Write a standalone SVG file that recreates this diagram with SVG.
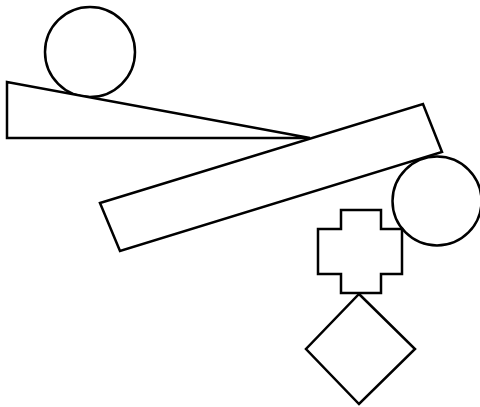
<svg xmlns="http://www.w3.org/2000/svg" width="480" height="407" viewBox="0 0 480 407">
<style>
.s{fill:#fff;stroke:#000;stroke-width:2.5;stroke-linejoin:miter}
</style>
<rect width="480" height="407" fill="#fff"/>
<g id="circle-top"><circle class="s" cx="90" cy="52" r="45"/></g>
<g id="triangle"><polygon class="s" points="7,82 7,138 310,138"/></g>
<g id="circle-right"><circle class="s" cx="437" cy="201" r="44.5"/></g>
<g id="beam"><polygon class="s" points="100,203 423,104 442,152 120,251"/></g>
<g id="cross"><polygon class="s" points="341,210 381,210 381,229 402,229 402,274 381,274 381,293 341,293 341,274 318,274 318,229 341,229"/></g>
<g id="diamond"><polygon class="s" points="359,294 415,349 359,404 306,349"/></g>
<g id="connectors"></g>
</svg>
